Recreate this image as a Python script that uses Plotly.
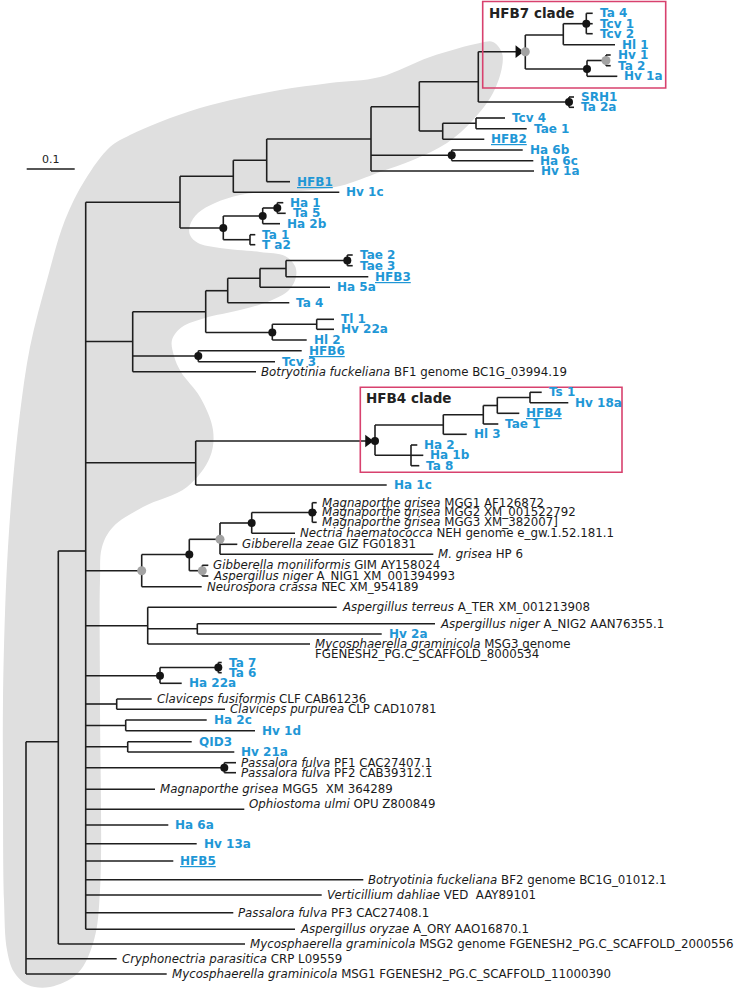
import plotly.graph_objects as go

# ---------------- internal nodes of the tree ----------------
node_id = ["R", "N58", "N86", "N180", "N233", "N267", "N371", "N419", "N478", "N525",
           "N563", "N586", "N587", "N606", "N569", "N443", "N476", "N452", "N223", "N263",
           "N277", "N250", "N133", "N206", "N228", "N260", "N286", "N347", "N272", "N317",
           "N198", "N196", "N375", "N443b", "N483", "N497", "N530", "N411", "N142", "N189",
           "N220", "N252", "N312", "N202", "N148", "N197", "N160", "N218", "N117", "N126",
           "N128", "N224"]
node_parent = [None, "R", "N58", "N86", "N180", "N233", "N267", "N371", "N419", "N478",
               "N525", "N563", "N525", "N587", "N478", "N419", "N443", "N371", "N180", "N223",
               "N263", "N223", "N86", "N133", "N206", "N228", "N260", "N286", "N206", "N272",
               "N133", "N86", "N196", "N375", "N443b", "N483", "N497", "N375", "N86", "N142",
               "N189", "N220", "N252", "N189", "N86", "N148", "N86", "N160", "N86", "N86",
               "N86", "N86"]
node_x = [26, 58.3, 85.7, 180, 233.3, 266.7, 371, 419.3, 478.3, 525.3,
          563.3, 586.3, 587, 606, 569, 442.7, 476, 451.7, 223.3, 262.7,
          277.3, 250, 132.7, 205.7, 227.7, 260, 286, 347.3, 272.3, 316.7,
          198.3, 195.7, 375, 443.3, 483.3, 497.3, 530, 411, 141.7, 189.3,
          220, 251.7, 312.3, 202.3, 147.7, 197.3, 160, 218.3, 116.7, 125.7,
          127.7, 224.3]
node_y = [858, 741.7, 551, 202.3, 176.3, 160.3, 139, 106.7, 81.7, 51.7,
          35, 23.7, 69, 60.5, 102, 131, 123.3, 155.3, 228, 216,
          208, 239.7, 341.5, 311.7, 290.7, 278.3, 268.5, 260.5, 332.5, 324.3,
          356, 462.7, 441, 425, 414.7, 405.5, 397.5, 455.3, 570.7, 554.5,
          539.3, 523, 512.5, 570.7, 625.7, 628.8, 675.7, 667.5, 704, 725.5,
          746.7, 767.7]
# support dots: k = black, g = grey
node_dot = ["", "", "", "", "", "", "", "", "", "g",
            "", "k", "k", "g", "k", "", "", "k", "k", "k",
            "k", "", "", "", "", "", "", "k", "k", "",
            "k", "", "k", "", "", "", "", "", "g", "k",
            "g", "k", "k", "g", "", "", "k", "k", "", "",
            "", "k"]
arrow_nodes = ["N525", "N375"]

# ---------------- leaves ----------------
# kind: b = blue bold, u = blue bold underlined, k = black (italic species | rest)
leaf_label = ["Ta 4", "Tcv 1", "Tcv 2", "Hl 1", "Hv 1", "Ta 2", "Hv 1a", "SRH1", "Ta 2a",
              "Tcv 4", "Tae 1", "HFB2", "Ha 6b", "Ha 6c", "Hv 1a", "HFB1", "Hv 1c",
              "Ha 1", "Ta 5", "Ha 2b", "Ta 1", "T a2", "Tae 2", "Tae 3", "HFB3", "Ha 5a",
              "Ta 4", "Tl 1", "Hv 22a", "Hl 2", "HFB6", "Tcv 3",
              "Botryotinia fuckeliana|BF1 genome BC1G_03994.19",
              "Ts 1", "Hv 18a", "HFB4", "Tae 1", "Hl 3", "Ha 2", "Ha 1b", "Ta 8", "Ha 1c",
              "Magnaporthe grisea|MGG1 AF126872",
              "Magnaporthe grisea|MGG2 XM_001522792",
              "Magnaporthe grisea|MGG3 XM_382007]",
              "Nectria haematococca|NEH genome e_gw.1.52.181.1",
              "Gibberella zeae|GIZ FG01831",
              "M. grisea|HP 6",
              "Gibberella moniliformis|GIM AY158024",
              "Aspergillus niger|A_NIG1 XM_001394993",
              "Neurospora crassa|NEC XM_954189",
              "Aspergillus terreus|A_TER XM_001213908",
              "Aspergillus niger|A_NIG2 AAN76355.1",
              "Hv 2a",
              "Mycosphaerella graminicola|MSG3 genome",
              "Ta 7", "Ta 6", "Ha 22a",
              "Claviceps fusiformis|CLF CAB61236",
              "Claviceps purpurea|CLP CAD10781",
              "Ha 2c", "Hv 1d", "QID3", "Hv 21a",
              "Passalora fulva|PF1 CAC27407.1",
              "Passalora fulva|PF2 CAB39312.1",
              "Magnaporthe grisea|MGG5\u00a0\u00a0XM 364289",
              "Ophiostoma ulmi|OPU Z800849",
              "Ha 6a", "Hv 13a", "HFB5",
              "Botryotinia fuckeliana|BF2 genome BC1G_01012.1",
              "Verticillium dahliae|VED\u00a0\u00a0AAY89101",
              "Passalora fulva|PF3 CAC27408.1",
              "Aspergillus oryzae|A_ORY AAO16870.1",
              "Mycosphaerella graminicola|MSG2 genome FGENESH2_PG.C_SCAFFOLD_2000556",
              "Cryphonectria parasitica|CRP L09559",
              "Mycosphaerella graminicola|MSG1 FGENESH2_PG.C_SCAFFOLD_11000390"]
leaf_parent = ["N586", "N586", "N586", "N563", "N606", "N606", "N587", "N569", "N569",
               "N476", "N476", "N443", "N452", "N452", "N371", "N267", "N233",
               "N277", "N277", "N263", "N250", "N250", "N347", "N347", "N286", "N260",
               "N228", "N317", "N317", "N272", "N198", "N198",
               "N133",
               "N530", "N530", "N497", "N483", "N443b", "N411", "N411", "N411", "N196",
               "N312", "N312", "N312", "N252", "N220", "N220", "N202", "N202", "N142",
               "N148", "N197", "N197", "N148",
               "N218", "N218", "N160", "N117", "N117", "N126", "N126", "N128", "N128",
               "N224", "N224", "N86", "N86", "N86", "N86", "N86", "N86", "N86", "N86",
               "N86", "N58", "R", "R"]
leaf_x = [592.7, 592.7, 592.7, 615, 610.7, 610.7, 617.3, 574, 574,
          505, 526.7, 484.3, 522.7, 533.3, 534, 290, 339.3,
          283.3, 285.7, 280, 255.3, 255.3, 352.7, 352.7, 368.3, 330,
          289.3, 334, 334, 306.7, 301.7, 275,
          256,
          541.7, 568.3, 519.3, 498.3, 466.7, 417.3, 423.3, 419.3, 386.7,
          316.7, 316.7, 316.7, 295, 237.3, 433.3, 208.3, 208.3, 201.7,
          336.7, 435, 381.7, 310,
          221.7, 221.7, 181.7, 151.7, 225, 206.7, 255, 191.7, 234.3,
          236, 236, 155, 244.3, 168.3, 196.7, 173.3, 363.3, 321.7, 233.3,
          295, 245, 116.7, 166.7]
leaf_y = [13.3, 23.7, 33.7, 44.7, 55, 65.7, 76.3, 97, 107.3,
          118, 128.7, 139.3, 150, 160.7, 171, 181.7, 192.3,
          202.7, 213.3, 223.7, 234.7, 244.7, 255, 265.7, 276.7, 287.3,
          302.7, 319.3, 329.3, 340, 350.7, 361.7,
          371.7,
          392.3, 402.7, 413.3, 424, 434.3, 445, 455.3, 465.7, 485,
          502.7, 512.3, 522.3, 533.3, 544.3, 554.3, 565.3, 576, 586.7,
          607.3, 623.7, 634, 644,
          662.5, 672.7, 683.3, 699, 709.3, 720, 730.7, 741.7, 752,
          762.7, 772.7, 789.3, 809.3, 825, 843.7, 861, 879.7, 895, 912.7,
          929.3, 944, 958.7, 974]
leaf_kind = ["b"] * 11 + ["u"] + ["b"] * 3 + ["u"] + ["b"] * 8 + ["u"] + ["b"] * 5 + ["u", "b", "k"] \
    + ["b", "b", "u"] + ["b"] * 6 \
    + ["k"] * 11 + ["b", "k"] \
    + ["b"] * 3 + ["k"] * 2 + ["b"] * 4 + ["k"] * 4 + ["b", "b", "u"] + ["k"] * 7
label_dy = {"Ophiostoma ulmi|OPU Z800849": -5}
extra_line = {"Mycosphaerella graminicola|MSG3 genome": "FGENESH2_PG.C_SCAFFOLD_8000534"}

clade_boxes = [("HFB7 clade", 482.7, 1.5, 665.7, 88.0), ("HFB4 clade", 360.3, 387.3, 622.0, 472.3)]
scale_bar = (26.7, 74.7, 169.0, "0.1")

# grey background region outline
blob_x = [480, 493, 502, 502, 493, 473, 447, 413, 380, 340, 300, 267, 240, 215, 198, 190, 190, 198,
          220, 260, 285, 295, 296, 289, 270, 240, 205, 182, 172, 174, 181, 200, 213, 210, 187,
          143, 113, 102, 100, 100, 100, 94, 78, 50, 28, 14, 7, 4, 3, 3, 5, 8, 13, 20, 30, 47, 65,
          85, 110, 130, 160, 200, 240, 280, 330, 380, 430]
blob_y = [43, 42, 53, 67, 93, 120, 143, 160, 172, 186, 191, 192, 195, 203, 213, 225, 235, 243,
          248, 252, 256, 266, 277, 290, 301, 310, 318, 327, 340, 356, 372, 397, 430, 457, 487,
          507, 527, 547, 580, 700, 890, 940, 973, 987, 985, 972, 950, 900, 790, 700, 613, 547,
          480, 413, 347, 280, 220, 180, 147, 135, 122, 108, 98, 90, 83, 77, 57]

BLUE = "#1f97d6"
LINE = "#1e1e1e"
FONT = "DejaVu Sans"
FS_BLUE = 12
FS_BLACK = 11.8

fig = go.Figure()

# background blob
fig.add_trace(go.Scatter(x=blob_x + [blob_x[0]], y=blob_y + [blob_y[0]], mode="lines",
                         line=dict(width=0, shape="spline", smoothing=1.0),
                         fill="toself", fillcolor="#dfdfdf", hoverinfo="skip", showlegend=False))

pos = {n: (x, y) for n, x, y in zip(node_id, node_x, node_y)}
children_y = {n: [] for n in node_id}
for n, p in zip(node_id, node_parent):
    if p is not None:
        children_y[p].append(pos[n][1])
for p, y in zip(leaf_parent, leaf_y):
    children_y[p].append(y)

lx, ly = [], []
# horizontal branches
for n, p in zip(node_id, node_parent):
    if p is None:
        continue
    lx += [pos[p][0], pos[n][0], None]
    ly += [pos[n][1], pos[n][1], None]
for p, x, y in zip(leaf_parent, leaf_x, leaf_y):
    lx += [pos[p][0], x, None]
    ly += [y, y, None]
# vertical connectors
for n in node_id:
    ys = children_y[n]
    lx += [pos[n][0], pos[n][0], None]
    ly += [min(ys), max(ys), None]
fig.add_trace(go.Scatter(x=lx, y=ly, mode="lines", line=dict(color=LINE, width=1.6),
                         hoverinfo="skip", showlegend=False))

# arrows
fig.add_trace(go.Scatter(x=[pos[n][0] - 7 for n in arrow_nodes], y=[pos[n][1] for n in arrow_nodes],
                         mode="markers", marker=dict(symbol="triangle-right", size=11, color="#111"),
                         hoverinfo="skip", showlegend=False))

# dots
for kind, col, sz in [("k", "#151515", 8), ("g", "#a3a3a3", 9)]:
    xs = [x for x, d in zip(node_x, node_dot) if d == kind]
    ys = [y for y, d in zip(node_y, node_dot) if d == kind]
    fig.add_trace(go.Scatter(x=xs, y=ys, mode="markers", marker=dict(size=sz, color=col),
                             hoverinfo="skip", showlegend=False))

# labels
ann = []
for lab, x, y, k in zip(leaf_label, leaf_x, leaf_y, leaf_kind):
    dy = label_dy.get(lab, 0)
    if k in ("b", "u"):
        txt = "<b>%s</b>" % lab
        if k == "u":
            txt = "<u>%s</u>" % txt
        ann.append(dict(x=x + 6, y=y + dy, text=txt, showarrow=False, xanchor="left", yanchor="middle",
                        borderpad=0, font=dict(family=FONT, size=FS_BLUE, color=BLUE)))
    else:
        sp, rest = lab.split("|")
        txt = "<i>%s</i> %s" % (sp, rest)
        ann.append(dict(x=x + 4, y=y + dy, text=txt, showarrow=False, xanchor="left", yanchor="middle",
                        borderpad=0, font=dict(family=FONT, size=FS_BLACK, color="#1a1a1a")))
        if lab in extra_line:
            ann.append(dict(x=x + 4, y=y + 10, text=extra_line[lab], showarrow=False, xanchor="left",
                            yanchor="middle", borderpad=0,
                            font=dict(family=FONT, size=FS_BLACK, color="#1a1a1a")))

shapes = []
for title, x0, y0, x1, y1 in clade_boxes:
    shapes.append(dict(type="rect", x0=x0, y0=y0, x1=x1, y1=y1, line=dict(color="#d8416e", width=1.6),
                       xref="x", yref="y"))
    ann.append(dict(x=x0 + 5, y=y0 + 11, text="<b>%s</b>" % title, showarrow=False, xanchor="left",
                    yanchor="middle", borderpad=0, font=dict(family=FONT, size=13.5, color="#222")))

sx0, sx1, sy, stxt = scale_bar
shapes.append(dict(type="line", x0=sx0, x1=sx1, y0=sy, y1=sy, line=dict(color=LINE, width=1.6),
                   xref="x", yref="y"))
ann.append(dict(x=(sx0 + sx1) / 2, y=sy - 10, text=stxt, showarrow=False, xanchor="center",
                yanchor="middle", borderpad=0, font=dict(family=FONT, size=11, color="#222")))

fig.update_layout(width=740, height=988, margin=dict(l=0, r=0, t=0, b=0),
                  paper_bgcolor="white", plot_bgcolor="white", annotations=ann, shapes=shapes,
                  xaxis=dict(range=[0, 740], visible=False, fixedrange=True),
                  yaxis=dict(range=[988, 0], visible=False, fixedrange=True))
fig.write_html("out.html", config={"displayModeBar": False},
               post_script="document.body.style.margin='0';document.body.style.overflow='hidden';")
